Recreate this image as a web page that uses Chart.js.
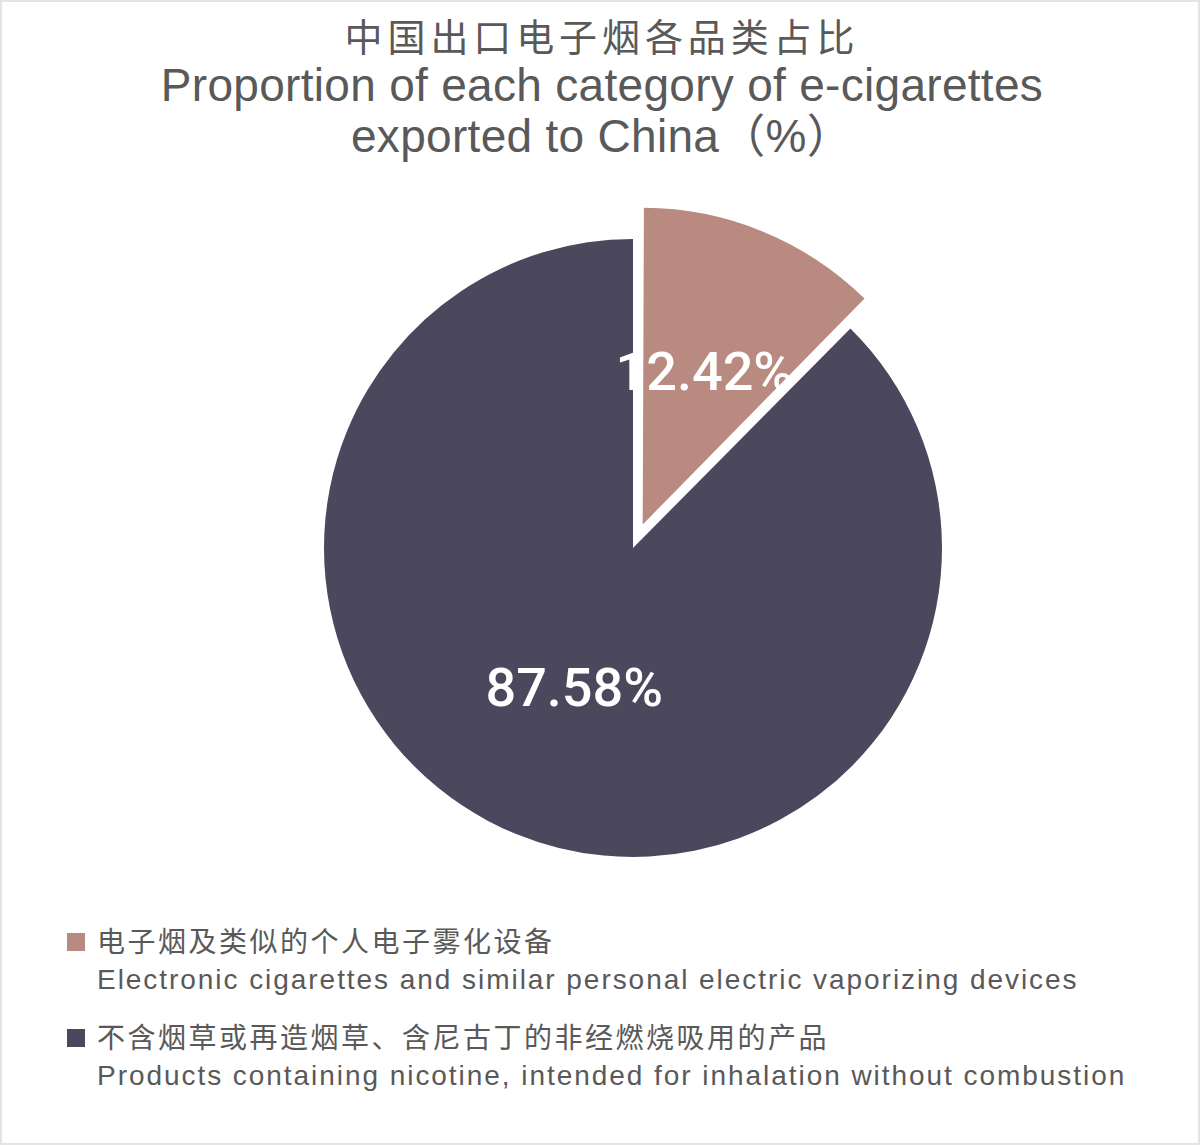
<!DOCTYPE html>
<html>
<head>
<meta charset="utf-8">
<script src="https://cdn.jsdelivr.net/npm/chart.js@4.4.0/dist/chart.umd.min.js"></script>
<style>
    html, body {
        margin: 0;
        padding: 0;
        background: #ffffff;
    }
    .page {
        position: relative;
        width: 1200px;
        height: 1145px;
        box-sizing: border-box;
        border: 2px solid #e4e4e4;
        overflow: hidden;
        color: #595959;
    }
    .title-line {
        position: absolute;
        left: 0;
        width: 1200px;
        text-align: center;
        white-space: nowrap;
    }
    .title-cn {
        font-family: "Noto Sans CJK SC", sans-serif;
        font-size: 38px;
        line-height: 38px;
        letter-spacing: 4.9px;
    }
    .title-en {
        font-family: "Liberation Sans", "Noto Sans CJK SC", sans-serif;
        font-size: 46px;
        line-height: 46px;
        letter-spacing: 0.3px;
    }
    #chartBox {
        position: absolute;
        left: 271px;
        top: 186px;
        width: 720px;
        height: 720px;
    }
    .legend-marker {
        position: absolute;
        left: 65px;
        width: 18px;
        height: 18px;
    }
    .legend-cn {
        position: absolute;
        left: 95px;
        font-family: "Noto Sans CJK SC", sans-serif;
        font-size: 28px;
        line-height: 28px;
        letter-spacing: 2.5px;
        white-space: nowrap;
    }
    .legend-en {
        position: absolute;
        left: 95px;
        font-family: "Liberation Sans", sans-serif;
        font-size: 28px;
        line-height: 28px;
        letter-spacing: 1.95px;
        white-space: nowrap;
    }
</style>
</head>
<body>
<div class="page">
    <div class="title-line title-cn" style="top:14px;">中国出口电子烟各品类占比</div>
    <div class="title-line title-en" style="top:60px;">Proportion of each category of e-cigarettes</div>
    <div class="title-line title-en" style="top:111px;">exported to China（%）</div>

    <div id="chartBox"><canvas id="pieChart"></canvas></div>

    <div id="legend"></div>
</div>

<script>
// Chart data
const categoriesCn = ['电子烟及类似的个人电子雾化设备', '不含烟草或再造烟草、含尼古丁的非经燃烧吸用的产品'];
const categoriesEn = ['Electronic cigarettes and similar personal electric vaporizing devices',
    'Products containing nicotine, intended for inhalation without combustion'];
const shares = [12.42, 87.58];
const sliceColors = ['#b98a80', '#4b475d'];
const sliceOffsets = [102, 0];

// Build legend
function buildLegend() {
    const legend = document.getElementById('legend');
    const tops = [924, 1020];
    categoriesCn.forEach((cn, i) => {
        const top = tops[i];
        legend.innerHTML += `
            <div class="legend-marker" style="top:${top + 7}px; background:${sliceColors[i]};"></div>
            <div class="legend-cn" style="top:${top}px;">${cn}</div>
            <div class="legend-en" style="top:${top + 40}px;">${categoriesEn[i]}</div>
        `;
    });
}

// Percentage labels drawn at half radius, following each slice's offset
const sliceLabels = {
    id: 'sliceLabels',
    afterDatasetsDraw(chart) {
        const ctx = chart.ctx;
        const meta = chart.getDatasetMeta(0);
        ctx.save();
        ctx.fillStyle = '#ffffff';
        ctx.font = '500 54px Roboto, "Liberation Sans", sans-serif';
        ctx.textAlign = 'center';
        ctx.textBaseline = 'middle';
        meta.data.forEach((arc, i) => {
            const { x, y, startAngle, endAngle, outerRadius } = arc.getProps(['x', 'y', 'startAngle', 'endAngle', 'outerRadius']);
            const half = (startAngle + endAngle) / 2;
            const circ = endAngle - startAngle;
            const off = (arc.options.offset || 0) / 4;
            const shift = off * (1 + (1 - Math.sin(Math.min(Math.PI, circ))));
            const r = shift + outerRadius / 2;
            ctx.fillText(shares[i].toFixed(2) + '%', x + Math.cos(half) * r, y + Math.sin(half) * r + 2);
        });
        ctx.restore();
    }
};

function initializeChart() {
    const ctx = document.getElementById('pieChart').getContext('2d');
    new Chart(ctx, {
        type: 'pie',
        data: {
            labels: categoriesEn,
            datasets: [{
                data: shares,
                backgroundColor: sliceColors,
                borderWidth: 0,
                offset: sliceOffsets
            }]
        },
        options: {
            responsive: true,
            maintainAspectRatio: false,
            animation: false,
            events: [],
            layout: { padding: 0 },
            plugins: {
                legend: { display: false },
                tooltip: { enabled: false }
            }
        },
        plugins: [sliceLabels]
    });
}

buildLegend();
// make sure the label font is ready before drawing on canvas
document.fonts.load('500 54px Roboto').then(initializeChart, initializeChart);
</script>
</body>
</html>
